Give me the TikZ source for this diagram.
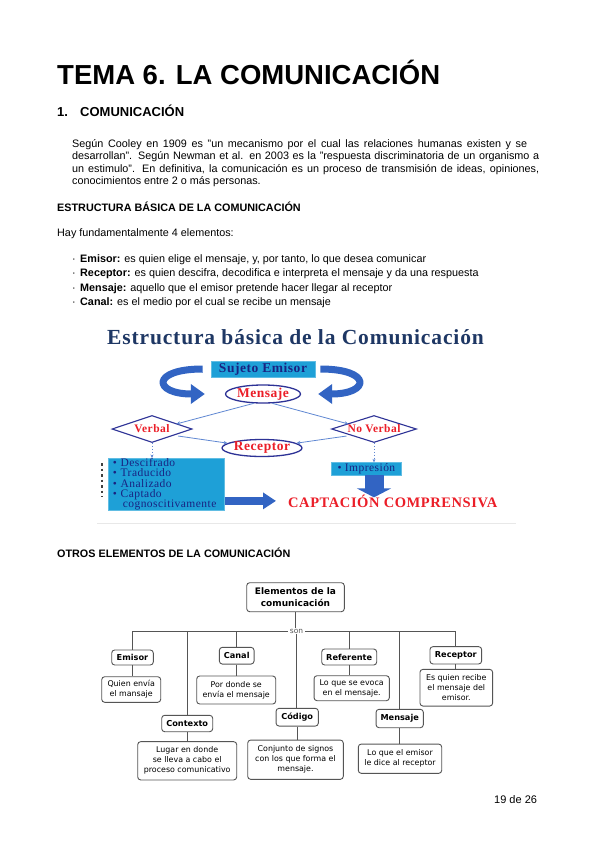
\documentclass[tikz,border=0pt]{standalone}
\usepackage{fontspec}
\setmainfont{Liberation Sans}
\newfontfamily\tnr{Liberation Serif}[LetterSpace=4]
\newfontfamily\dvs{DejaVu Sans}
\usetikzlibrary{shapes.geometric,arrows.meta,calc}
\definecolor{cyanbox}{RGB}{30,160,215}
\definecolor{navy}{RGB}{25,35,130}
\definecolor{ttlnavy}{RGB}{30,55,100}
\definecolor{redtxt}{RGB}{235,30,40}
\definecolor{bigblue}{RGB}{50,100,195}
\definecolor{thinblue}{RGB}{95,135,210}
\definecolor{ovalblue}{RGB}{45,50,150}
\definecolor{cgray}{RGB}{85,85,85}
\newcommand{\fs}[2]{\fontsize{#1}{#2}\selectfont}
\begin{document}
\begin{tikzpicture}[x=1pt,y=-1pt,
  every node/.style={inner sep=0pt},
  txt/.style={anchor=base west},
  body/.style={txt,font=\fs{10.8}{12.4}},
  bodyb/.style={txt,font=\bfseries\fs{10.8}{12.4}},
  cyanrect/.style={rectangle,fill=cyanbox,draw=cyanbox!70!white,line width=0.6pt},
  ovalnode/.style={ellipse,draw=ovalblue,line width=1.3pt,fill=white,text=redtxt},
  diam/.style={diamond,draw=ovalblue,line width=1.1pt,fill=white,aspect=3,text=redtxt,font=\tnr\bfseries\fs{11.5}{13}},
  thinarr/.style={thinblue,line width=0.8pt,-{Stealth[length=4pt,width=3.5pt]}},
  dotarr/.style={thinblue,line width=0.9pt,dotted,-{Stealth[length=3.5pt,width=3pt]}},
  curvearr/.style={bigblue,line width=7pt,-{Triangle[length=14pt,width=19pt]}},
  cbox/.style={draw=cgray,line width=0.9pt,rounded corners=3pt,fill=white,align=center,font=\dvs\fs{7.9}{10}},
  clbl/.style={cbox,font=\dvs\bfseries\fs{8.2}{10}},
  cline/.style={cgray,line width=0.9pt}
]
\useasboundingbox (0,0) rectangle (599,848);
\fill[white] (0,0) rectangle (599,848);

% ---------- headings and text ----------
\node[txt,font=\bfseries\fs{27.5}{30}] (title) at (57,85) {TEMA 6. LA COMUNICACIÓN};
\node[txt,font=\bfseries\fs{13}{15}] (h1n) at (57,117) {1.};
\node[txt,font=\bfseries\fs{13}{15}] (h1) at (80,117) {COMUNICACIÓN};

\node[body] (p1) at (72,147) {\makebox[455pt][s]{Según Cooley en 1909 es "un mecanismo por el cual las relaciones humanas existen y se}};
\node[body] (p2) at (72,159.5) {\makebox[467pt][s]{desarrollan". Según Newman et al. en 2003 es la "respuesta discriminatoria de un organismo a}};
\node[body] (p3) at (72,172) {\makebox[467pt][s]{un estimulo". En definitiva, la comunicación es un proceso de transmisión de ideas, opiniones,}};
\node[body] (p4) at (72,184.5) {conocimientos entre 2 o más personas.};

\node[bodyb] (h2) at (57,211) {ESTRUCTURA BÁSICA DE LA COMUNICACIÓN};
\node[body] (hay) at (57,236) {Hay fundamentalmente 4 elementos:};

\node[body] (d1) at (72,262) {·};
\node[body] (b1) at (80,262) {\textbf{Emisor:} es quien elige el mensaje, y, por tanto, lo que desea comunicar};
\node[body] (d2) at (72,276.5) {·};
\node[body] (b2) at (80,276.5) {\textbf{Receptor:} es quien descifra, decodifica e interpreta el mensaje y da una respuesta};
\node[body] (d3) at (72,291) {·};
\node[body] (b3) at (80,291) {\textbf{Mensaje:} aquello que el emisor pretende hacer llegar al receptor};
\node[body] (d4) at (72,305.5) {·};
\node[body] (b4) at (80,305.5) {\textbf{Canal:} es el medio por el cual se recibe un mensaje};

% ---------- diagram 1 ----------
\draw[gray!18,line width=0.6pt] (97,523) -- (516,523);
\node[txt,font=\tnr\bfseries\fs{21.5}{23},text=ttlnavy] (dt) at (107,344) {Estructura básica de la Comunicación};

\node[cyanrect,minimum width=104pt,minimum height=16pt,text=navy,font=\tnr\bfseries\fs{13.5}{14}] (se) at (263,369) {Sujeto Emisor};
\node[ovalnode,minimum width=75pt,minimum height=18pt,font=\tnr\bfseries\fs{13.5}{14}] (msj) at (263,394) {Mensaje};

\draw[curvearr] ([xshift=-8pt]se.west) .. controls +(-52,0) and +(-52,0) .. ([xshift=-20pt]msj.west);
\draw[curvearr] ([xshift=5pt]se.east) .. controls +(52,0) and +(52,0) .. ([xshift=17pt]msj.east);

\node[diam,minimum width=80pt,minimum height=27pt] (vb) at (152,429) {Verbal};
\node[diam,minimum width=85pt,minimum height=27pt] (nv) at (374,429) {No Verbal};
\node[ovalnode,minimum width=80pt,minimum height=17pt,font=\tnr\bfseries\fs{13.5}{14}] (rc) at (262,448) {Receptor};

\draw[thinarr] (msj.225) -- ([shift={(4pt,-2pt)}]vb.north east);
\draw[thinarr] (msj.-45) -- ([shift={(-4pt,-2pt)}]nv.north west);
\draw[thinarr] ([xshift=6pt]vb.south east) -- (rc.172);
\draw[thinarr] ([xshift=-6pt]nv.south west) -- (rc.8);

\node[cyanrect,minimum width=116pt,minimum height=51.7pt,inner xsep=4.5pt,text width=107pt,align=left,text=navy,font=\tnr\fs{11.5}{10.2}] (lb) at (166.3,484.2)
  {• Descifrado\\• Traducido\\• Analizado\\• Captado\\\hspace*{10pt}cognoscitivamente};
\node[cyanrect,minimum width=70.7pt,minimum height=12.3pt,text=navy,font=\tnr\fs{11.5}{12}] (imp) at (366.4,468.8) {• Impresión};

\draw[dotarr] (vb.south) -- (vb.south |- lb.north);
\draw[dotarr] (nv.south) -- (nv.south |- imp.north);

\draw[black!75,line width=1.6pt,dash pattern=on 2.5pt off 3pt] (101.7,463) -- (101.7,497);

\node[txt,font=\tnr\bfseries\fs{14.5}{16},text=redtxt] (capt) at (288,507) {CAPTACIÓN COMPRENSIVA};

\draw[bigblue,line width=8pt,-{Triangle[length=13pt,width=16pt]}] (lb.east |- capt.west) -- ([xshift=-12pt]capt.west);
\draw[bigblue,line width=19pt,-{Triangle[length=9pt,width=34pt]}] (nv.south |- imp.south) -- ($(nv.south |- capt.north)+(0,3)$);

% ---------- diagram 2 ----------
\node[bodyb] (h3) at (57,557) {OTROS ELEMENTOS DE LA COMUNICACIÓN};

\node[cbox,font=\dvs\bfseries\fs{9}{11.5},minimum width=97.6pt,minimum height=29pt] (cel) at (295.5,597.2) {Elementos de la\\comunicación};
\node[font=\dvs\fs{7.5}{8},text=cgray,fill=white,inner xsep=2pt,inner ysep=1pt] (son) at (296.5,631) {son};

\node[clbl,minimum width=41.6pt,minimum height=15pt] (cem) at (132.5,657.5) {Emisor};
\node[clbl,minimum width=34.7pt,minimum height=16.7pt] (ccan) at (236.7,655.7) {Canal};
\node[clbl,minimum width=55pt,minimum height=16pt] (cref) at (349.2,657) {Referente};
\node[clbl,minimum width=51.7pt,minimum height=17.3pt] (crec) at (455.8,655.3) {Receptor};
\node[clbl,minimum width=51pt,minimum height=16.4pt] (ccx) at (187.2,723.5) {Contexto};
\node[clbl,minimum width=42.3pt,minimum height=17.7pt] (ccod) at (297.2,717.2) {Código};
\node[clbl,minimum width=47.3pt,minimum height=18.4pt] (cmen) at (399.7,718.5) {Mensaje};

\node[cbox,minimum width=59pt,minimum height=25.6pt] (dq) at (131.2,689.5) {Quien envía\\el mansaje};
\node[cbox,minimum width=79pt,minimum height=28pt] (dpor) at (236.2,690) {Por donde se\\envía el mensaje};
\node[cbox,minimum width=75.3pt,minimum height=25pt] (dlo) at (351.7,688.2) {Lo que se evoca\\en el mensaje.};
\node[cbox,minimum width=72.7pt,minimum height=36.7pt] (des) at (456.3,687.7) {Es quien recibe\\el mensaje del\\emisor.};
\node[cbox,minimum width=99pt,minimum height=38.3pt] (dlu) at (187.2,760.8) {Lugar en donde\\se lleva a cabo el\\proceso comunicativo};
\node[cbox,minimum width=95.6pt,minimum height=39.3pt] (dco) at (295.5,759.7) {Conjunto de signos\\con los que forma el\\mensaje.};
\node[cbox,minimum width=83.4pt,minimum height=29.3pt] (dle) at (400,758.7) {Lo que el emisor\\le dice al receptor};

\draw[cline] (cel.south) -- (cel.south |- son.north);
\draw[cline] (son.south) -- (son.south |- ccod.north);
\draw[cline] (son.west) -- (cem.north |- son.west) -- (cem.north);
\draw[cline] (son.east) -- (crec.north |- son.east) -- (crec.north);
\draw[cline] (ccx.north |- son.west) -- (ccx.north);
\draw[cline] (ccan.north |- son.west) -- (ccan.north);
\draw[cline] (cref.north |- son.east) -- (cref.north);
\draw[cline] (cmen.north |- son.east) -- (cmen.north);

\draw[cline] (cem.south) -- (cem.south |- dq.north);
\draw[cline] (ccan.south) -- (ccan.south |- dpor.north);
\draw[cline] (cref.south) -- (cref.south |- dlo.north);
\draw[cline] (crec.south) -- (crec.south |- des.north);
\draw[cline] (ccx.south) -- (ccx.south |- dlu.north);
\draw[cline] (ccod.south) -- (ccod.south |- dco.north);
\draw[cline] (cmen.south) -- (cmen.south |- dle.north);

\node[body,font=\fs{11}{12}] (pg) at (494,803) {19 de 26};
\end{tikzpicture}
\end{document}
